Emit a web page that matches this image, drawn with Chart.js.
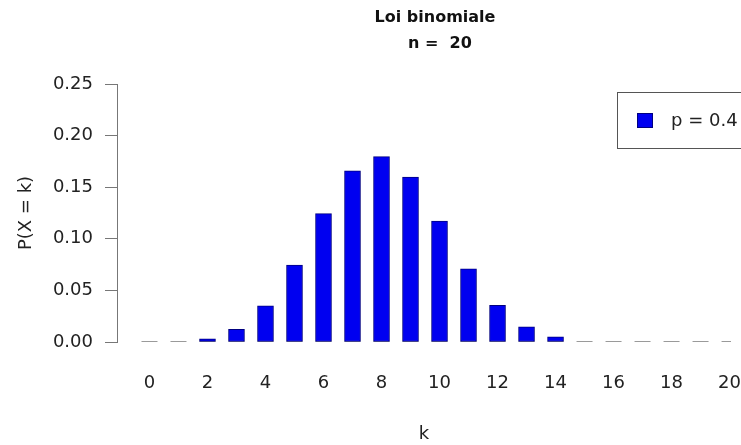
<!DOCTYPE html>
<html><head><meta charset="utf-8">
<script src="https://cdn.jsdelivr.net/npm/chart.js@4"></script>
<style>html,body{margin:0;padding:0;background:#fff;overflow:hidden}#wrap{width:741px;height:445px}</style>
</head><body><div id="wrap"><canvas id="c" width="741" height="445"></canvas></div>
<script>
const titleLines = ["Loi binomiale", "n =  20"];
const seriesLabel = "p = 0.4";
const ks = [0,1,2,3,4,5,6,7,8,9,10,11,12,13,14,15,16,17,18,19,20];
const probs = [0.00004,0.0005,0.0031,0.0123,0.0350,0.0746,0.1244,0.1659,0.1797,0.1597,0.1171,0.0710,0.0355,0.0146,0.0049,0.0013,0.0003,0.00004,0.000005,0.0000003,0.00000001];
const xTicks = [0,2,4,6,8,10,12,14,16,18,20];
const yTicks = [0,0.05,0.10,0.15,0.20,0.25];
const xTitle = "k";
const yTitle = "P(X = k)";

const FONT = "'DejaVu Sans', sans-serif";

const overlay = {
  id: 'overlay',
  afterDraw(chart) {
    const ctx = chart.ctx;
    ctx.save();
    ctx.fillStyle = '#111';
    ctx.font = 'bold 16px ' + FONT;
    ctx.textAlign = 'center';
    ctx.textBaseline = 'middle';
    ctx.fillText(titleLines[0], 435, 18);
    ctx.fillText(titleLines[1], 440, 44);
    // legend box
    ctx.strokeStyle = '#555';
    ctx.lineWidth = 1;
    ctx.fillStyle = '#fff';
    ctx.fillRect(617.5, 92.5, 150, 56);
    ctx.strokeRect(617.5, 92.5, 150, 56);
    ctx.fillStyle = '#0000f0';
    ctx.fillRect(637, 113, 16, 15);
    ctx.strokeStyle = '#000080';
    ctx.strokeRect(637.5, 113.5, 15, 14);
    ctx.fillStyle = '#222';
    ctx.font = '18px ' + FONT;
    ctx.textAlign = 'left';
    ctx.fillText(chart.data.datasets[0].label, 671, 121);
    ctx.restore();
  }
};

const tiny = ctx => ctx.raw && ctx.raw.y < 0.002;

new Chart(document.getElementById('c'), {
  type: 'bar',
  data: {
    datasets: [
      {
        label: seriesLabel,
        data: ks.map((k, i) => ({x: k, y: probs[i]})),
        backgroundColor: c => tiny(c) ? 'rgba(0,0,0,0)' : '#0000f0',
        borderColor: c => tiny(c) ? 'rgba(0,0,0,0)' : '#000080',
        borderWidth: 1,
        borderSkipped: false,
        barThickness: 16,
        order: 1
      },
      {
        type: 'scatter',
        label: 'base',
        data: ks.map(k => ({x: k, y: 0})),
        pointStyle: 'line',
        pointRadius: 8,
        pointBorderColor: '#9a9a9a',
        pointBorderWidth: 2,
        borderColor: '#9a9a9a',
        borderWidth: 2,
        order: 2
      }
    ]
  },
  plugins: [overlay],
  options: {
    responsive: false,
    animation: false,
    layout: {padding: {top: 84, right: 0, left: 0, bottom: 0}},
    plugins: {legend: {display: false}, tooltip: {enabled: false}, title: {display: false}},
    scales: {
      x: {
        type: 'linear',
        offset: false,
        min: -1.12,
        max: 20.05,
        afterBuildTicks: s => { s.ticks = xTicks.map(v => ({value: v})); },
        afterFit: s => { s.height = 103; s.paddingLeft = 0; s.paddingRight = 0; },
        grid: {display: true, drawOnChartArea: false, drawTicks: true, tickLength: 28, color: 'rgba(0,0,0,0)', tickColor: 'rgba(0,0,0,0)'},
        border: {display: false},
        ticks: {color: '#222', font: {family: FONT, size: 18}, padding: 3, maxRotation: 0, autoSkip: false},
        title: {display: true, text: xTitle, color: '#222', font: {family: FONT, size: 18}, padding: {top: 22, bottom: 0}}
      },
      y: {
        min: 0,
        max: 0.25,
        afterBuildTicks: s => { s.ticks = yTicks.map(v => ({value: v})); },
        afterFit: s => { s.width = 117; },
        grid: {display: true, drawOnChartArea: false, tickLength: 12, color: '#777', tickColor: '#777'},
        border: {display: true, color: '#777', width: 1},
        ticks: {color: '#222', font: {family: FONT, size: 18}, padding: 12, callback: v => v.toFixed(2)},
        title: {display: true, text: yTitle, color: '#222', font: {family: FONT, size: 18}, padding: {top: 16, bottom: 0}}
      }
    }
  }
});
</script></body></html>
